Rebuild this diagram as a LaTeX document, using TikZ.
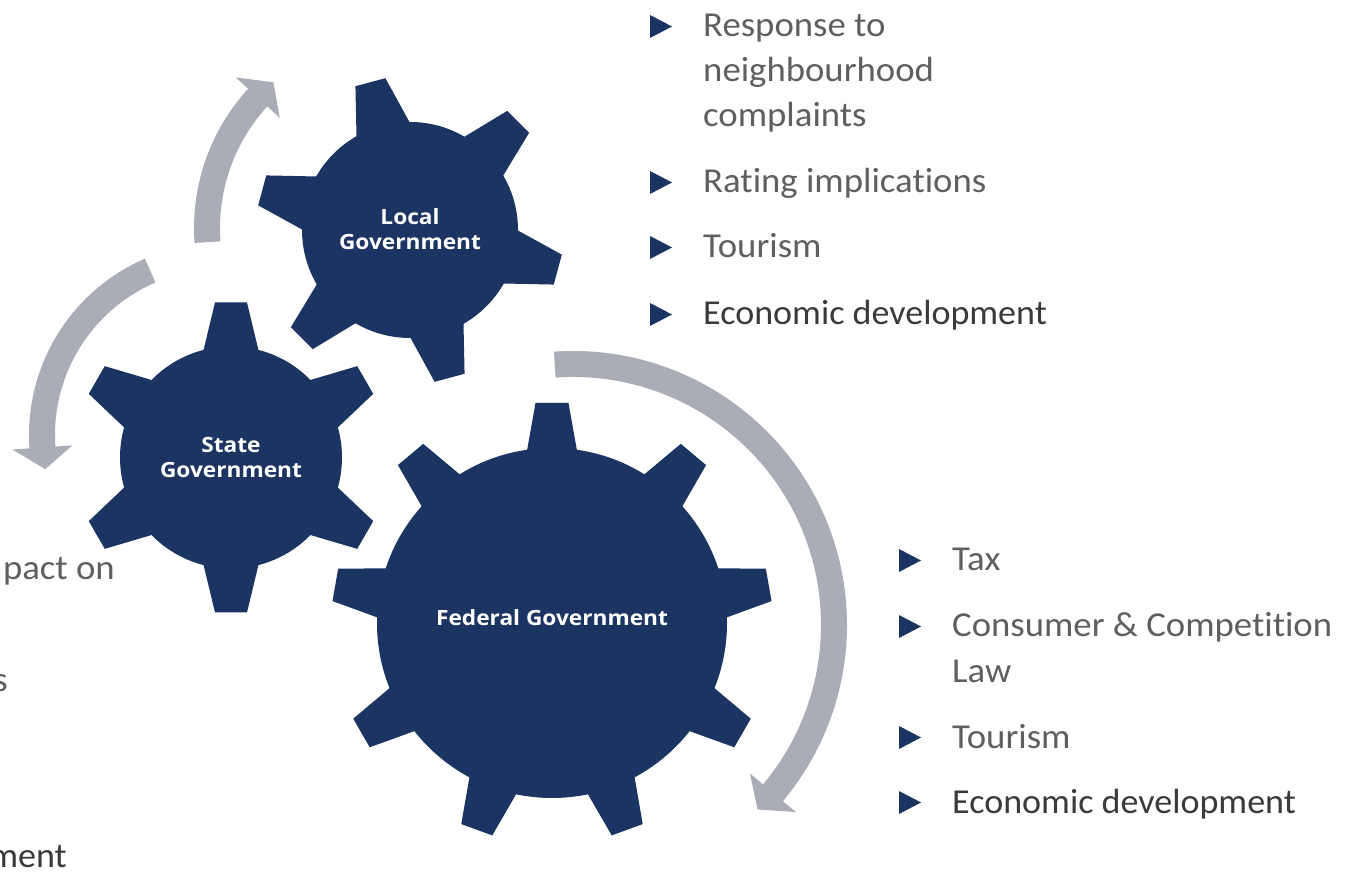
\documentclass[tikz,border=0pt]{standalone}
\usepackage{fontspec}
\setmainfont{Carlito}
\newfontfamily\lightfont{Carlito}[FakeStretch=1.05, Ligatures=NoCommon]
\newfontfamily\darkfont{Carlito}[FakeStretch=1.03, Ligatures=NoCommon]
\newfontfamily\labelfont{Open Sans}[FakeStretch=1.08]
\usetikzlibrary{calc}
\definecolor{navy}{HTML}{1B3461}
\definecolor{arrowgray}{HTML}{AAADB6}
\definecolor{txtlight}{HTML}{5F5F5F}
\definecolor{txtdark}{HTML}{3A3A3A}
\tikzset{
  gearfill/.style={fill=navy},
  gearlabel/.style={text=white, inner sep=0pt, align=center,
    font=\labelfont\bfseries\fontsize{21bp}{25bp}\selectfont},
  itemtext/.style={anchor=base west, inner sep=0pt, text=txtlight,
    font=\lightfont\fontsize{35bp}{45bp}\selectfont},
  itemdark/.style={itemtext, text=txtdark,
    font=\darkfont\fontsize{35bp}{45bp}\selectfont},
  cuttext/.style={itemtext, anchor=base east},
  cutdark/.style={itemdark, anchor=base east},
  bulletmark/.style={fill=navy},
  arrowband/.style={draw=arrowgray, line width=26bp},
  arrowtip/.style={fill=arrowgray},
}
% gear: centre name, body r, tip r, inner half width, tip half width, angles
\newcommand{\drawgear}[6]{%
  \fill[gearfill] (#1) circle[radius=#2];
  \foreach \a in {#6} {
    \fill[gearfill, shift={(#1)}, rotate=\a]
      (#2-10,-#4) -- (#3,-#5) -- (#3,#5) -- (#2-10,#4) -- cycle;
  }%
}
% arrow: centre name, radius, start angle, arc end, head base, tip angle
\newcommand{\arcarrow}[6]{%
  \draw[arrowband] ($(#1)+(#3:#2)$) arc[start angle=#3, end angle=#4, radius=#2];
  \fill[arrowtip] ($(#1)+(#5:#2-30)$) -- ($(#1)+(#6:#2)$) -- ($(#1)+(#5:#2+30)$) -- cycle;
}
\newcommand{\bul}[2]{\fill[bulletmark] (#1,#2+11.5) -- (#1,#2-11.5) -- (#1+22,#2) -- cycle;}
\begin{document}
\begin{tikzpicture}[x=1bp,y=1bp]
\clip (0,0) rectangle (1346,873);
\fill[white] (0,0) rectangle (1346,873);
% centres
\coordinate (cl) at (410,643);
\coordinate (cs) at (231,415.5);
\coordinate (cf) at (552,250);
\coordinate (a1) at (400,645);
\coordinate (a2) at (221,438);
\coordinate (a3) at (573,248);
% arrows
\arcarrow{a1}{193}{184.2}{135.5}{137.5}{131}
\arcarrow{a2}{179}{113.3}{186}{184}{191}
\arcarrow{a3}{261}{94}{-42}{-40}{-45}
% gears
\drawgear{cl}{108}{153}{29}{15.5}{105,45,-15,-75,-135,165}
\drawgear{cs}{111}{155}{29}{16}{90,30,-30,-90,-150,150}
\drawgear{cf}{175}{220}{26.3}{16.5}{90,50,10,-30,-70,-110,-150,170,130}
% gear labels
\node[gearlabel] (ll) at (410,643.5) {Local\\Government};
\node[gearlabel] (sl) at (231,415.5) {State\\Government};
\node[gearlabel] (fl) at (552,255) {Federal Government};
% upper list
\bul{650}{846.5}\bul{650}{690.5}\bul{650}{625.5}\bul{650}{558.5}
\node[itemtext] (u1a) at (703,836) {Response to};
\node[itemtext] (u1b) at (703,791) {neighbourhood};
\node[itemtext] (u1c) at (703,746) {complaints};
\node[itemtext] (u2) at (703,680) {Rating implications};
\node[itemtext] (u3) at (703,615) {Tourism};
\node[itemdark] (u4) at (703,548) {Economic development};
% lower right list
\bul{899}{312.5}\bul{899}{246.5}\bul{899}{135.5}\bul{899}{70.5}
\node[itemtext] (r1) at (952,302) {Tax};
\node[itemtext] (r2a) at (952,236) {Consumer \& Competition};
\node[itemtext] (r2b) at (952,191) {Law};
\node[itemtext] (r3) at (952,125) {Tourism};
\node[itemdark] (r4) at (952,60) {Economic development};
% cut-off left list
\node[cuttext] (l1) at (115,293) {pact on};
\node[cuttext] (l2) at (8,182) {s};
\node[cutdark] (l3) at (67,6) {ment};
\end{tikzpicture}
\end{document}
